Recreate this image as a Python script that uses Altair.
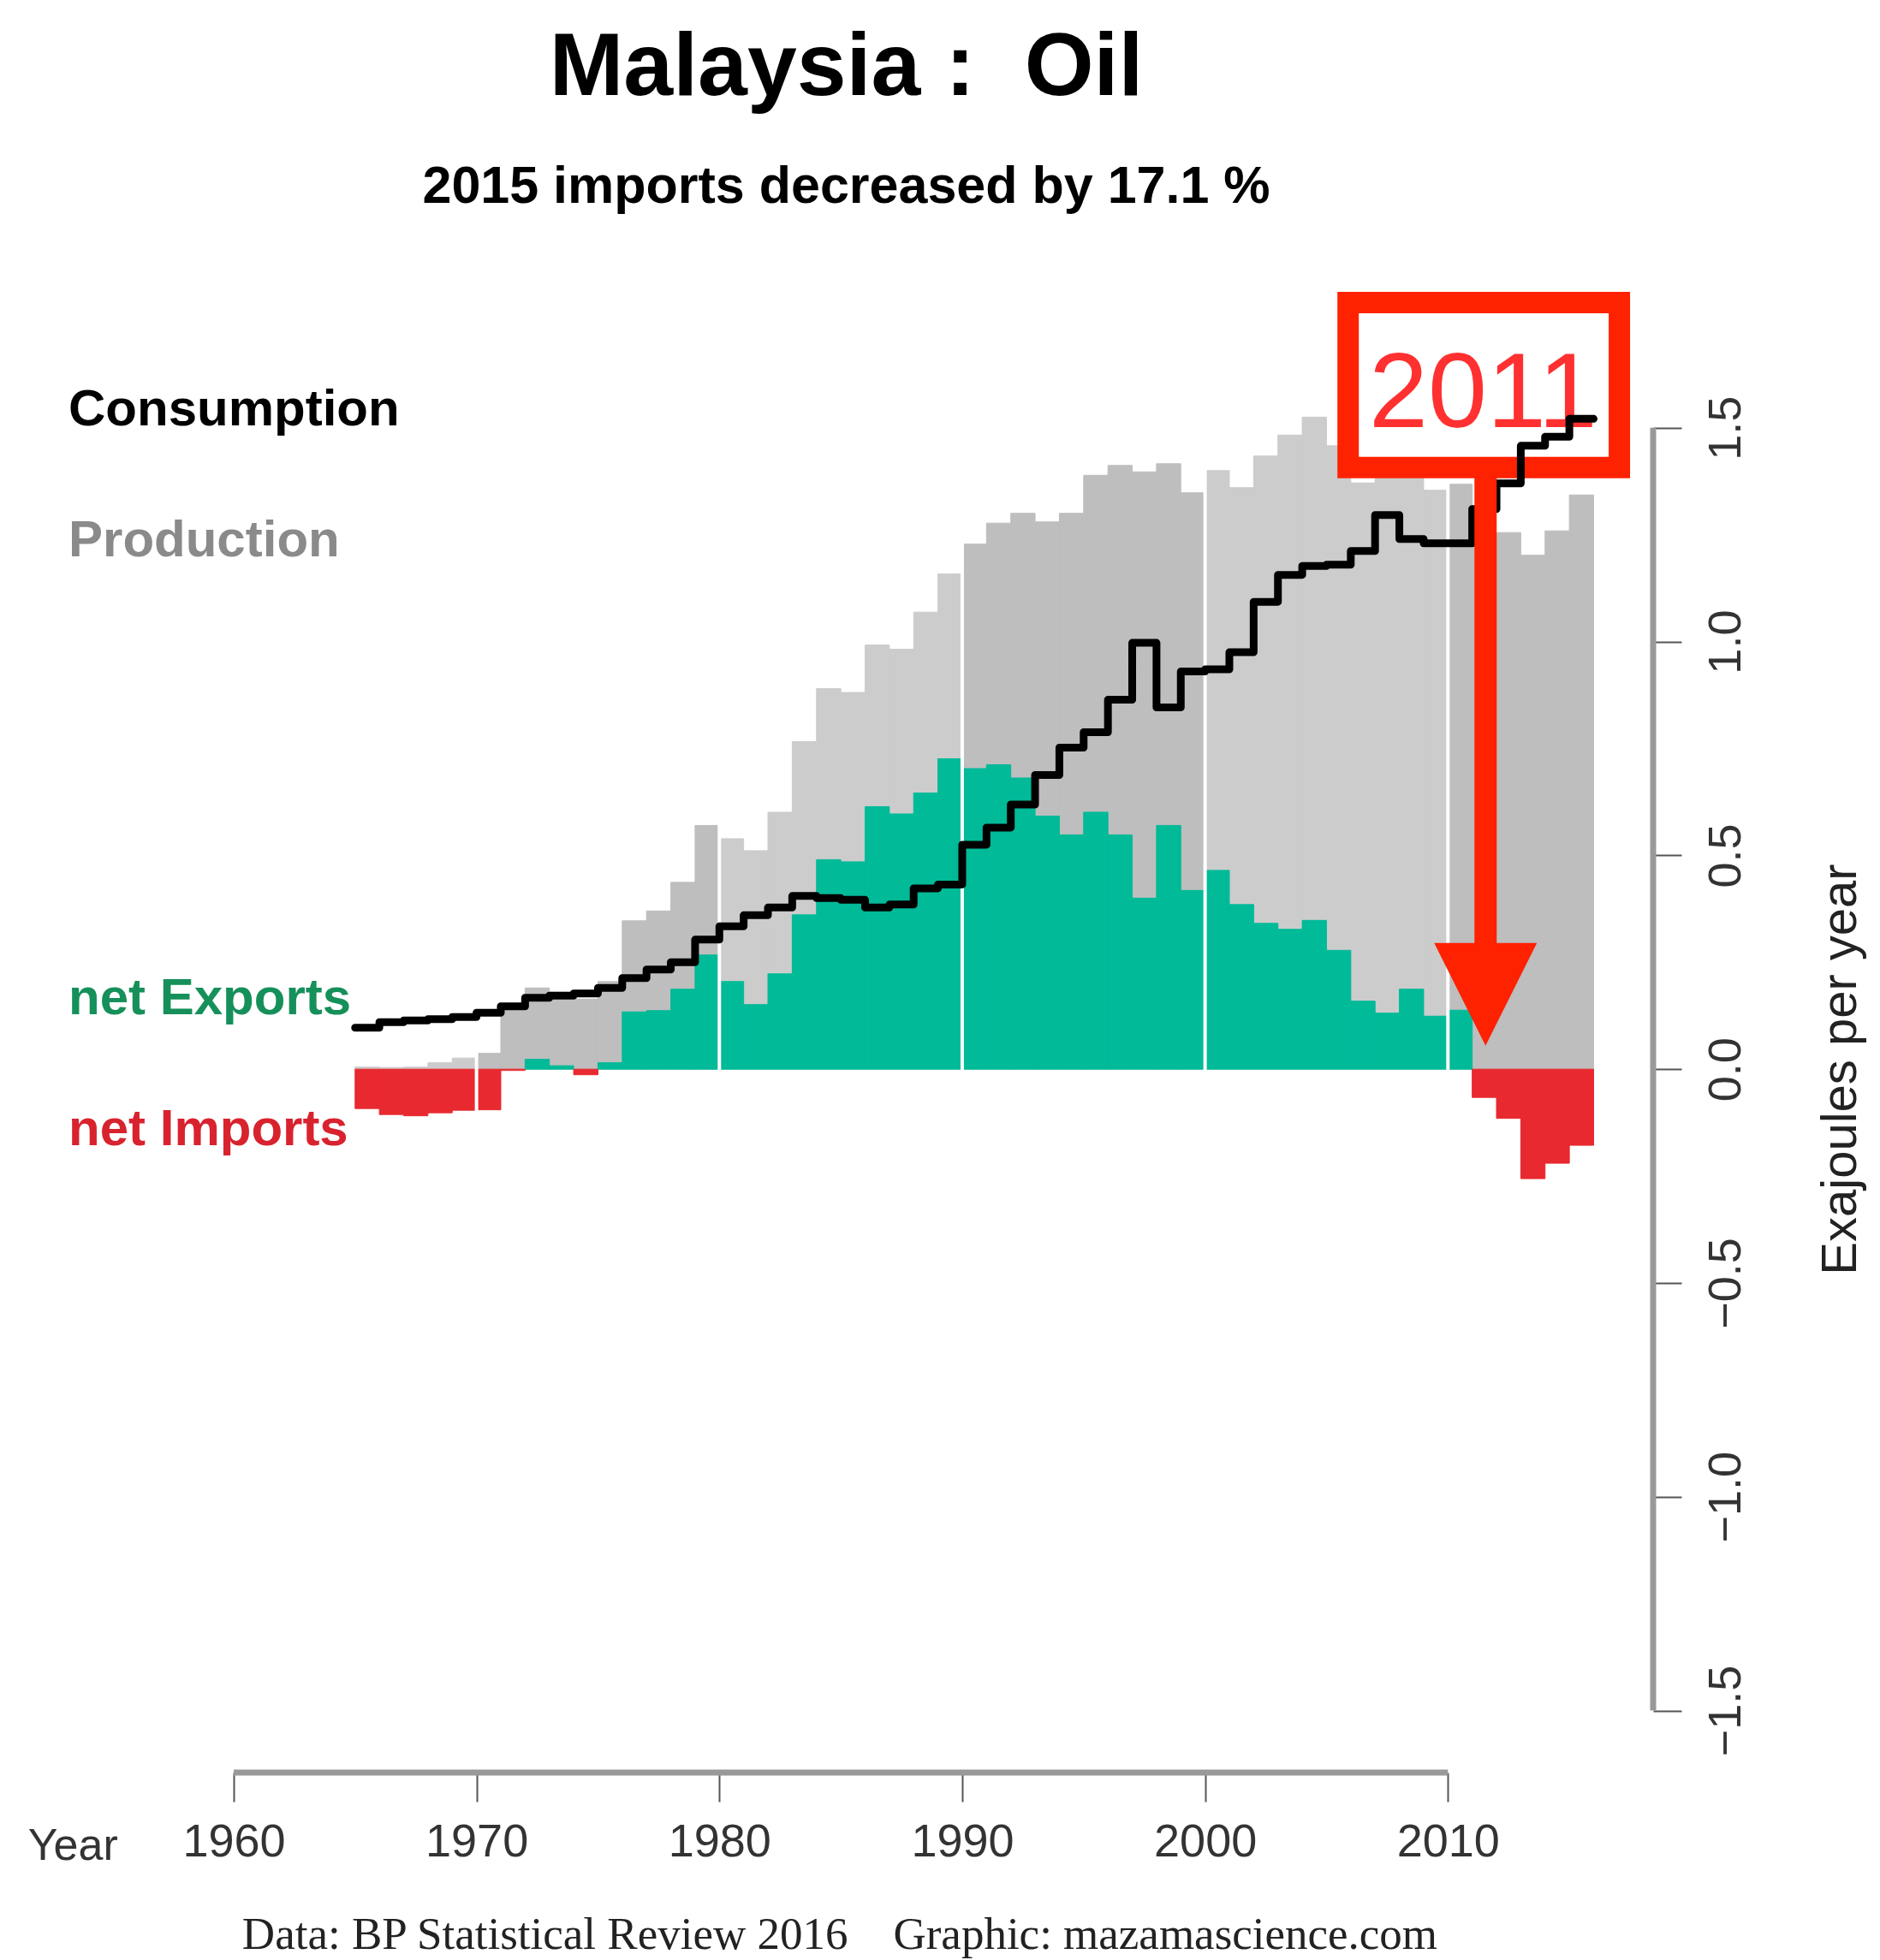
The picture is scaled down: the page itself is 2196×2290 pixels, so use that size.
import altair as alt
import pandas as pd

# ---------------- data ----------------
years = list(range(1965, 2016))

production = [
    0.005, 0.004, 0.005, 0.015, 0.026,            # 1965-1969
    0.037, 0.144, 0.190, 0.180, 0.164,            # 1970-1974
    0.205, 0.347, 0.370, 0.437, 0.570,            # 1975-1979
    0.539, 0.511, 0.601, 0.766, 0.890,            # 1980-1984
    0.881, 0.992, 0.982, 1.069, 1.158,            # 1985-1989
    1.228, 1.277, 1.300, 1.280, 1.300,            # 1990-1994
    1.389, 1.412, 1.397, 1.416, 1.348,            # 1995-1999
    1.400, 1.360, 1.434, 1.483, 1.525,            # 2000-2004
    1.458, 1.371, 1.427, 1.427, 1.354,            # 2005-2009
    1.368, 1.244, 1.255, 1.202, 1.259,            # 2010-2014
    1.343,                                        # 2015
]

consumption = [
    0.097, 0.110, 0.114, 0.117, 0.122,
    0.132, 0.147, 0.167, 0.172, 0.177,
    0.190, 0.213, 0.233, 0.250, 0.303,
    0.334, 0.360, 0.378, 0.405, 0.400,
    0.396, 0.378, 0.385, 0.423, 0.432,
    0.525, 0.565, 0.619, 0.688, 0.752,
    0.788, 0.864, 0.997, 0.846, 0.930,
    0.935, 0.975, 1.093, 1.156, 1.177,
    1.180, 1.212, 1.296, 1.240, 1.230,
    1.230, 1.310, 1.370, 1.458, 1.479,
    1.521,
]

decades = [1970, 1980, 1990, 2000, 2010]
x_ticks = [1960, 1970, 1980, 1990, 2000, 2010]
y_ticks = [-1.5, -1.0, -0.5, 0.0, 0.5, 1.0, 1.5]

series_labels = ["Consumption", "Production", "net Exports", "net Imports"]
series_label_y = [1.541, 1.236, 0.165, -0.141]
series_label_colors = ["#000000", "#8a8a8a", "#16905a", "#d8232f"]

NB = "\u00a0"
title_text = "Malaysia :" + NB + " Oil"
subtitle_text = "2015 imports decreased by 17.1 %"
footer_text = "Data: BP Statistical Review 2016" + NB * 3 + " Graphic: mazamascience.com"
highlight_year = "2011"

# ---------------- styling / layout ----------------
X_MIN, X_MAX = 1952, 2018.45
Y_MIN, Y_MAX = -1.645, 1.9
W, H = 1885, 1771
SANS = "Liberation Sans, Arial, Helvetica, sans-serif"
SERIF = "Liberation Serif, Times New Roman, serif"
RED = "#FF2200"

xscale = alt.Scale(domain=[X_MIN, X_MAX], nice=False, zero=False)
yscale = alt.Scale(domain=[Y_MIN, Y_MAX], nice=False, zero=False)

x_axis = alt.Axis(values=x_ticks, format="d", domain=False, grid=False, title=None,
                  tickSize=34, tickWidth=2, tickColor="#555555",
                  labelFont=SANS, labelFontSize=54, labelColor="#333333",
                  labelPadding=20, labelFlush=False, labelOverlap=False)
y_axis = alt.Axis(values=y_ticks, format=".1f", orient="right", domain=False, grid=False,
                  title="Exajoules per year", titleFont=SANS, titleFontSize=58,
                  titleFontWeight="normal", titleColor="#222222", titleAngle=270,
                  titleAlign="center", titleBaseline="middle", titleX=219, titleY=949,
                  tickSize=33, tickWidth=2, tickColor="#555555",
                  labelFont=SANS, labelFontSize=54, labelColor="#333333",
                  labelAngle=270, labelAlign="center", labelBaseline="middle",
                  labelPadding=52, labelFlush=False, labelOverlap=False)


def X(field):
    return alt.X(field, scale=xscale, axis=x_axis)


def Y(field):
    return alt.Y(field, scale=yscale, axis=y_axis)


df = pd.DataFrame({"year": years, "production": production, "consumption": consumption})
base = alt.Chart(df)

# production bars, shaded by decade
prod_bars = base.transform_calculate(
    year_end="datum.year + 1",
    zero="0",
    fillcol="floor(datum.year / 10) % 2 == 1 ? '#BEBEBE' : '#CCCCCC'",
).mark_rect(strokeWidth=1).encode(
    x=X("year:Q"),
    x2="year_end:Q",
    y=Y("production:Q"),
    y2="zero:Q",
    color=alt.Color("fillcol:N", scale=None),
    stroke=alt.Stroke("fillcol:N", scale=None),
)

# net exports / imports
net_bars = base.transform_calculate(
    year_end="datum.year + 1",
    zero="0",
    net="datum.production - datum.consumption",
).transform_calculate(
    fillcol="datum.net >= 0 ? '#00BA98' : '#E8292F'",
).mark_rect(strokeWidth=1).encode(
    x=X("year:Q"),
    x2="year_end:Q",
    y=Y("net:Q"),
    y2="zero:Q",
    color=alt.Color("fillcol:N", scale=None),
    stroke=alt.Stroke("fillcol:N", scale=None),
)

# white decade separators
dec_df = pd.DataFrame({"x": decades, "lo": [-0.45] * len(decades), "hi": [1.6] * len(decades)})
decade_lines = alt.Chart(dec_df).mark_rule(color="white", strokeWidth=4).encode(
    x=X("x:Q"), y=Y("lo:Q"), y2="hi:Q",
)

# annotation box with year
ann_df = pd.DataFrame({
    "x1": [2005.89], "x2": [2017.06], "y1": [1.407], "y2": [1.793],
    "tx": [2011.45], "ty": [1.501], "label": [highlight_year],
    "ax": [2011.55], "ay1": [1.39], "ay2": [0.29], "hy": [0.175],
})
box = alt.Chart(ann_df).mark_rect(fill="white", stroke=RED, strokeWidth=25).encode(
    x=X("x1:Q"), x2="x2:Q", y=Y("y1:Q"), y2="y2:Q",
)
box_text = alt.Chart(ann_df).mark_text(
    font=SANS, fontSize=124, color="#FF3030", align="center", baseline="alphabetic"
).encode(
    x=X("tx:Q"), y=Y("ty:Q"), text="label:N",
)
shaft = alt.Chart(ann_df).mark_rule(color=RED, strokeWidth=26).encode(
    x=X("ax:Q"), y=Y("ay1:Q"), y2="ay2:Q",
)
head = alt.Chart(ann_df).mark_point(
    shape="M-1,-1L1,-1L0,1Z", filled=True, fill=RED, color=RED, opacity=1,
    size=14400, strokeWidth=0,
).encode(
    x=X("ax:Q"), y=Y("hy:Q"),
)

# consumption as a step line
cons_line = base.transform_calculate(
    year_end="datum.year + 1"
).transform_fold(
    ["year", "year_end"], as_=["kind", "xpos"]
).transform_calculate(
    ord="datum.xpos * 2 + (datum.kind == 'year' ? 1 : 0)"
).mark_line(color="black", strokeWidth=9, strokeJoin="round", strokeCap="round").encode(
    x=X("xpos:Q"), y=Y("consumption:Q"), order="ord:Q",
)

# series labels on the left
lab_df = pd.DataFrame({"label": series_labels, "y": series_label_y,
                       "col": series_label_colors, "x": [1953.2] * 4})
labels = alt.Chart(lab_df).mark_text(
    font=SANS, fontSize=60, fontWeight="bold", align="left", baseline="middle"
).encode(
    x=X("x:Q"), y=Y("y:Q"), text="label:N",
    color=alt.Color("col:N", scale=None),
)

# R-style axis lines (spanning the tick range only)
xl_df = pd.DataFrame({"x1": [min(x_ticks)], "x2": [max(x_ticks)], "y": [Y_MIN]})
x_line = alt.Chart(xl_df).mark_rule(color="#999999", strokeWidth=7).encode(
    x=X("x1:Q"), x2="x2:Q", y=Y("y:Q"),
)
yl_df = pd.DataFrame({"x": [X_MAX], "y1": [min(y_ticks)], "y2": [max(y_ticks)]})
y_line = alt.Chart(yl_df).mark_rule(color="#999999", strokeWidth=7).encode(
    x=X("x:Q"), y=Y("y1:Q"), y2="y2:Q",
)

# "Year" label and footer
misc_df = pd.DataFrame({"label": ["Year"], "x": [1951.53], "y": [-1.85]})
year_label = alt.Chart(misc_df).mark_text(
    font=SANS, fontSize=52, color="#333333", align="left", baseline="alphabetic"
).encode(
    x=X("x:Q"), y=Y("y:Q"), text="label:N",
)
foot_df = pd.DataFrame({"label": [footer_text], "x": [1984.96], "y": [-2.058]})
footer = alt.Chart(foot_df).mark_text(
    font=SERIF, fontSize=53, color="#222222", align="center", baseline="alphabetic"
).encode(
    x=X("x:Q"), y=Y("y:Q"), text="label:N",
)

chart = alt.layer(
    prod_bars, net_bars, decade_lines, box, box_text, cons_line, shaft, head,
    labels, x_line, y_line, year_label, footer,
).properties(
    width=W, height=H,
    background="white",
    autosize=alt.AutoSizeParams(type="none"),
    padding={"left": 38, "top": 292, "right": 257, "bottom": 219},
    title=alt.TitleParams(
        text=title_text, subtitle=subtitle_text,
        font=SANS, fontSize=104, fontWeight="bold", color="black",
        subtitleFont=SANS, subtitleFontSize=61, subtitleFontWeight="bold",
        subtitleColor="black", anchor="middle", offset=50, subtitlePadding=56,
    ),
).configure_view(strokeWidth=0, stroke="transparent")

chart.save("out.html", embed_options={"renderer": "svg", "actions": False})
